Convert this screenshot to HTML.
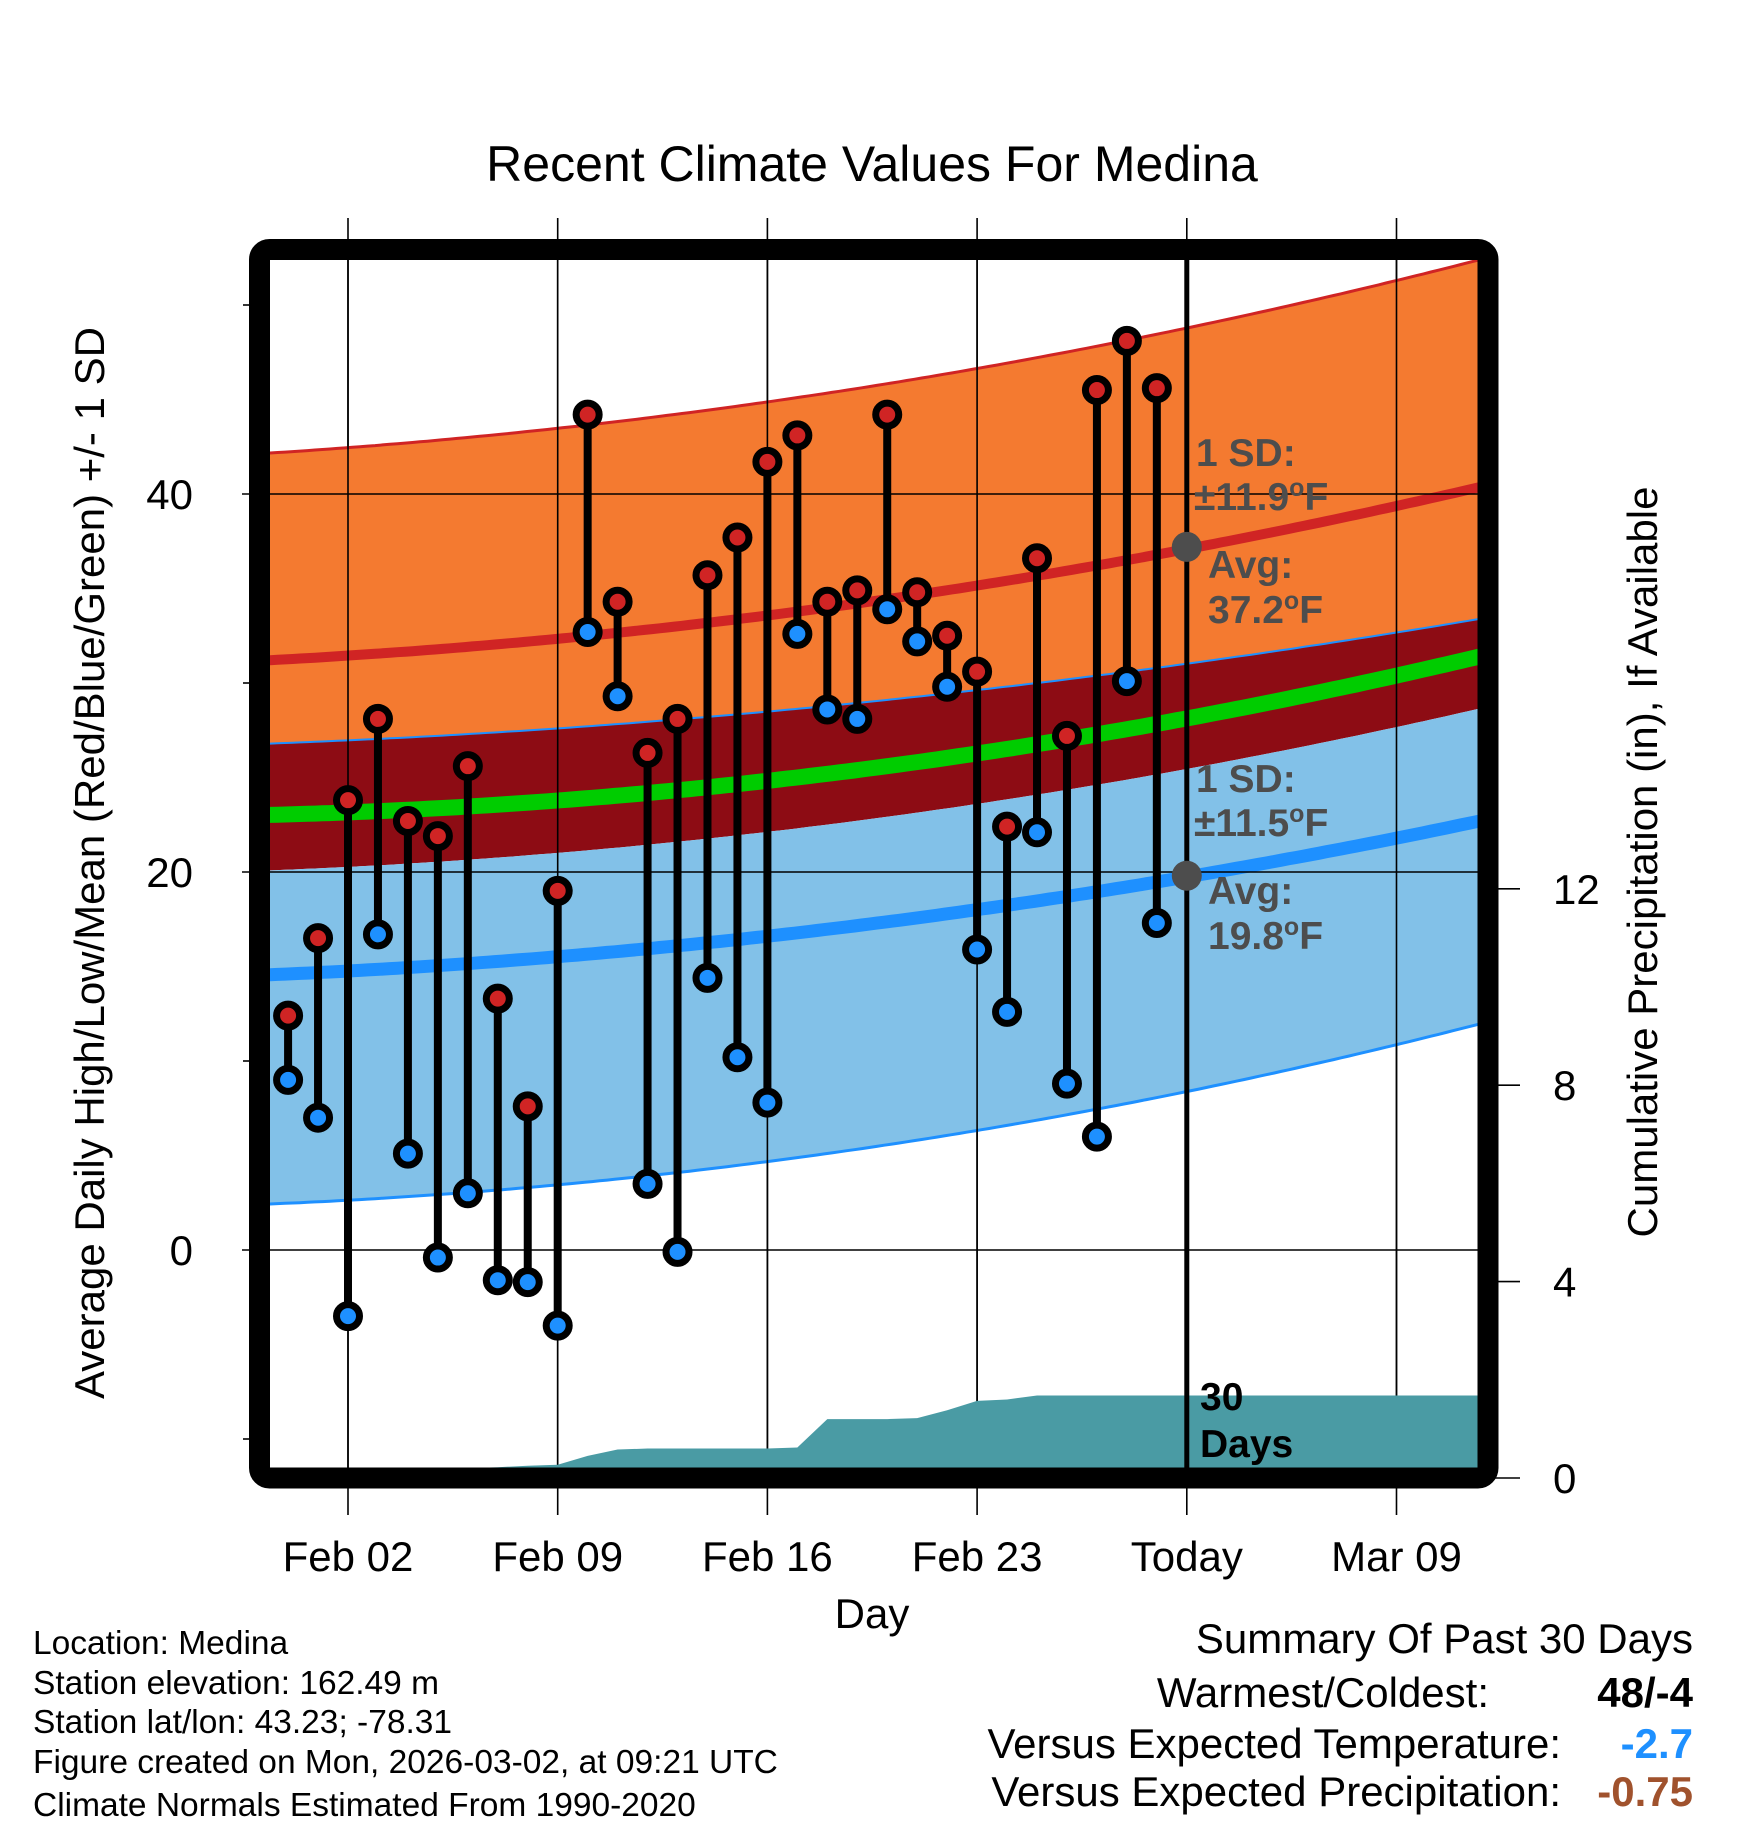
<!DOCTYPE html>
<html><head><meta charset="utf-8"><style>
html,body{margin:0;padding:0;background:#fff;}
svg{display:block;font-family:"Liberation Sans",Arial,sans-serif;}
</style></head><body>
<svg id="chart" width="1748" height="1828" viewBox="0 0 1748 1828" xmlns="http://www.w3.org/2000/svg">
<defs><clipPath id="plotclip"><rect x="270" y="260" width="1208" height="1208"/></clipPath></defs>
<text x="872" y="181" font-size="50" text-anchor="middle">Recent Climate Values For Medina</text>
<g id="grid"></g>
<g id="bands" clip-path="url(#plotclip)"></g>
<g id="gridin" clip-path="url(#plotclip)"></g>
<g id="precip" clip-path="url(#plotclip)"></g>
<g id="marks"></g>
<g id="annot"></g>
<rect x="259.5" y="249.5" width="1228.5" height="1228.5" rx="10" fill="none" stroke="#000" stroke-width="21"/>
<g id="axes"></g>
<text x="93" y="863" font-size="42" text-anchor="middle" transform="rotate(-90 93 863)" dominant-baseline="middle">Average Daily High/Low/Mean (Red/Blue/Green) +/- 1 SD</text>
<text x="1646" y="862" font-size="42" text-anchor="middle" transform="rotate(-90 1646 862)" dominant-baseline="middle">Cumulative Precipitation (in), If Available</text>
<text x="872" y="1628" font-size="42" text-anchor="middle">Day</text>
<g font-size="33.5">
<text x="33" y="1654">Location: Medina</text>
<text x="33" y="1694">Station elevation: 162.49 m</text>
<text x="33" y="1733">Station lat/lon: 43.23; -78.31</text>
<text x="33" y="1773">Figure created on Mon, 2026-03-02, at 09:21 UTC</text>
<text x="33" y="1816">Climate Normals Estimated From 1990-2020</text>
</g>
<g font-size="42">
<text x="1693" y="1653" text-anchor="end">Summary Of Past 30 Days</text>
<text x="1489" y="1707" text-anchor="end">Warmest/Coldest:</text>
<text x="1693" y="1707" text-anchor="end" font-weight="bold">48/-4</text>
<text x="1561" y="1758" text-anchor="end">Versus Expected Temperature:</text>
<text x="1693" y="1758" text-anchor="end" font-weight="bold" fill="#1e90ff">-2.7</text>
<text x="1561" y="1806" text-anchor="end">Versus Expected Precipitation:</text>
<text x="1693" y="1806" text-anchor="end" font-weight="bold" fill="#a0522d">-0.75</text>
</g>
</svg>
<script>
const days=[0,1,2,3,4,5,6,7,8,9,10,11,12,13,14,15,16,17,18,19,20,21,22,23,24,25,26,27,28,29];
const highs=[12.4,16.5,23.8,28.1,22.7,21.9,25.6,13.3,7.6,19.0,44.2,34.3,26.3,28.1,35.7,37.7,41.7,43.1,34.3,34.9,44.2,34.8,32.5,30.6,22.4,36.6,27.2,45.5,48.1,45.6];
const lows=[9.0,7.0,-3.5,16.7,5.1,-0.4,3.0,-1.6,-1.7,-4.0,32.7,29.3,3.5,-0.1,14.4,10.2,7.8,32.6,28.6,28.1,33.9,32.2,29.8,15.9,12.6,22.1,8.8,6.0,30.1,17.3];
const precip=[0,0,0,0,0,0,0.2,0.22,0.25,0.27,0.45,0.58,0.6,0.6,0.6,0.6,0.6,0.62,1.2,1.2,1.2,1.22,1.38,1.57,1.6,1.68,1.68,1.68,1.68,1.68];
const normDays=[-0.6,9,16,23,30,39.7];
const highUpper=[42.3,43.3,44.7,46.7,49.1,52.2];
const highAvg=[31.2,32.4,33.5,35.1,37.2,40.3];
const highLower=[26.9,27.5,28.3,29.6,31.4,33.2];
const lowUpper=[20.1,21.0,22.1,23.6,25.5,28.6];
const meanAvg=[23.0,23.8,24.9,26.2,28.1,31.4];
const lowAvg=[14.6,15.5,16.5,18.0,19.9,22.6];
const lowLower=[2.5,3.3,4.7,6.4,8.4,11.9];
const xTickDays=[2,9,16,23,30,37];
const xTickLabels=["Feb 02","Feb 09","Feb 16","Feb 23","Today","Mar 09"];
const yTicks=[0,20,40];
const yMinor=[-10,10,30,50];
const y2Ticks=[0,4,8,12];
const todayDay=30;
const todayHigh=37.2, todayLow=19.8;

const NS="http://www.w3.org/2000/svg";
const X=d=>348+(d-2)*29.957;
const Y=v=>1250-v*18.9;
const Y2=p=>1478-p*49.1;
function mk(tag,attrs,parent,txt){const e=document.createElementNS(NS,tag);for(const k in attrs)e.setAttribute(k,attrs[k]);if(txt!==undefined)e.textContent=txt;document.getElementById(parent).appendChild(e);return e;}
// least-squares quadratic fit through the sampled normals (smooth curve)
function fit(arr){let S=[0,0,0,0,0],T=[0,0,0];normDays.forEach((x,i)=>{let p=1;for(let k=0;k<5;k++){S[k]+=p;p*=x;}T[0]+=arr[i];T[1]+=arr[i]*x;T[2]+=arr[i]*x*x;});
 const A=[[S[0],S[1],S[2],T[0]],[S[1],S[2],S[3],T[1]],[S[2],S[3],S[4],T[2]]];
 for(let i=0;i<3;i++){for(let j=i+1;j<3;j++){const f=A[j][i]/A[i][i];for(let k=i;k<4;k++)A[j][k]-=f*A[i][k];}}
 const c=[0,0,0];for(let i=2;i>=0;i--){let s=A[i][3];for(let k=i+1;k<3;k++)s-=A[i][k]*c[k];c[i]=s/A[i][i];}
 return d=>c[0]+c[1]*d+c[2]*d*d;}
function curve(arr){const f=fit(arr);const pts=[];for(let d=normDays[0]-0.5;d<=normDays[normDays.length-1]+0.5;d+=0.25)pts.push([X(d).toFixed(1),Y(f(d)).toFixed(1)]);return pts;}
function bandPath(up,lo){const a=curve(up),b=curve(lo).reverse();return "M"+a.map(p=>p.join(",")).join("L")+"L"+b.map(p=>p.join(",")).join("L")+"Z";}
function linePath(arr){return "M"+curve(arr).map(p=>p.join(",")).join("L");}

let e;
e=mk('path',{d:bandPath(highUpper,highLower),fill:'#f47a30'},'bands');

e=mk('path',{d:bandPath(highLower,lowUpper),fill:'#8d0c14'},'bands');

e=mk('path',{d:bandPath(lowUpper,lowLower),fill:'#82c1e8'},'bands');

e=mk('path',{d:linePath(highUpper),fill:'none',stroke:'#d02424','stroke-width':3},'bands');

e=mk('path',{d:linePath(highLower),fill:'none',stroke:'#1e90ff','stroke-width':2},'bands');

e=mk('path',{d:linePath(lowLower),fill:'none',stroke:'#1e90ff','stroke-width':3},'bands');

e=mk('path',{d:linePath(highAvg),fill:'none',stroke:'#d02424','stroke-width':10},'bands');

e=mk('path',{d:linePath(meanAvg),fill:'none',stroke:'#00cc00','stroke-width':16},'bands');

e=mk('path',{d:linePath(lowAvg),fill:'none',stroke:'#1e90ff','stroke-width':13},'bands');


xTickDays.forEach((d,i)=>{
 e=mk('line',{x1:X(d),x2:X(d),y1:218,y2:1515,stroke:'#000','stroke-width':1.6},'grid');
 
 e=mk('line',{x1:X(d),x2:X(d),y1:260,y2:1468,stroke:'#000','stroke-width':1.6},'gridin');
 
 e=mk('text',{x:X(d),y:1571,'font-size':42,'text-anchor':'middle'},'axes',xTickLabels[i]);
 
});
yTicks.forEach(v=>{
 e=mk('line',{x1:242,x2:270,y1:Y(v),y2:Y(v),stroke:'#000','stroke-width':1.6},'grid');
 
 e=mk('line',{x1:270,x2:1478,y1:Y(v),y2:Y(v),stroke:'#000','stroke-width':1.6},'gridin');
 
 e=mk('text',{x:193,y:Y(v)+15,'font-size':42,'text-anchor':'end'},'axes',String(v));
 
});
yMinor.forEach(v=>{
 e=mk('line',{x1:243,x2:252,y1:Y(v),y2:Y(v),stroke:'#000','stroke-width':1.6},'grid');
 
});
y2Ticks.forEach(p=>{
 e=mk('line',{x1:1488,x2:1520,y1:Y2(p),y2:Y2(p),stroke:'#000','stroke-width':1.6},'axes');
 
 e=mk('text',{x:1553,y:Y2(p)+15,'font-size':42},'axes',String(p));
 
});

{let pts=[[X(days[0]),Y2(0)]];days.forEach((d,i)=>pts.push([X(d),Y2(precip[i])]));
 pts.push([1480,Y2(precip[precip.length-1])]);pts.push([1480,Y2(0)]);
 e=mk('path',{d:"M"+pts.map(p=>p.join(",")).join("L")+"Z",fill:'#4a9ba4'},'precip');
 }

days.forEach((d,i)=>{
 e=mk('line',{x1:X(d),x2:X(d),y1:Y(highs[i]),y2:Y(lows[i]),stroke:'#000','stroke-width':8},'marks');
 
});
days.forEach((d,i)=>{
 e=mk('circle',{cx:X(d),cy:Y(highs[i]),r:11.5,fill:'#d02424',stroke:'#000','stroke-width':7},'marks');
 
 e=mk('circle',{cx:X(d),cy:Y(lows[i]),r:11.5,fill:'#1e90ff',stroke:'#000','stroke-width':7},'marks');
 
});

e=mk('line',{x1:X(todayDay),x2:X(todayDay),y1:260,y2:1468,stroke:'#000','stroke-width':5},'annot');

e=mk('circle',{cx:X(todayDay),cy:Y(todayHigh),r:15,fill:'#4d4d4d'},'annot');

e=mk('circle',{cx:X(todayDay),cy:Y(todayLow),r:15,fill:'#4d4d4d'},'annot');

const ann=[[1196,466,"1 SD:"],[1194,510,"±11.9","F"],[1208,578,"Avg:"],[1208,623,"37.2","F"],
 [1196,792,"1 SD:"],[1194,836,"±11.5","F"],[1208,904,"Avg:"],[1208,949,"19.8","F"]];
ann.forEach(a=>{
 e=mk('text',{x:a[0],y:a[1],'font-size':39,'font-weight':'bold',fill:'#4d4d4d'},'annot');
 
 e.appendChild(document.createTextNode(a[2]));
 if(a[3]){const s=document.createElementNS(NS,'tspan');s.setAttribute('dy','-14');s.setAttribute('font-size','25');s.textContent='o';e.appendChild(s);
  const f=document.createElementNS(NS,'tspan');f.setAttribute('dy','14');f.textContent='F';e.appendChild(f);}
});
e=mk('text',{x:1200,y:1410,'font-size':39,'font-weight':'bold'},'annot','30');

e=mk('text',{x:1200,y:1457,'font-size':39,'font-weight':'bold'},'annot','Days');

</script>
</body></html>
